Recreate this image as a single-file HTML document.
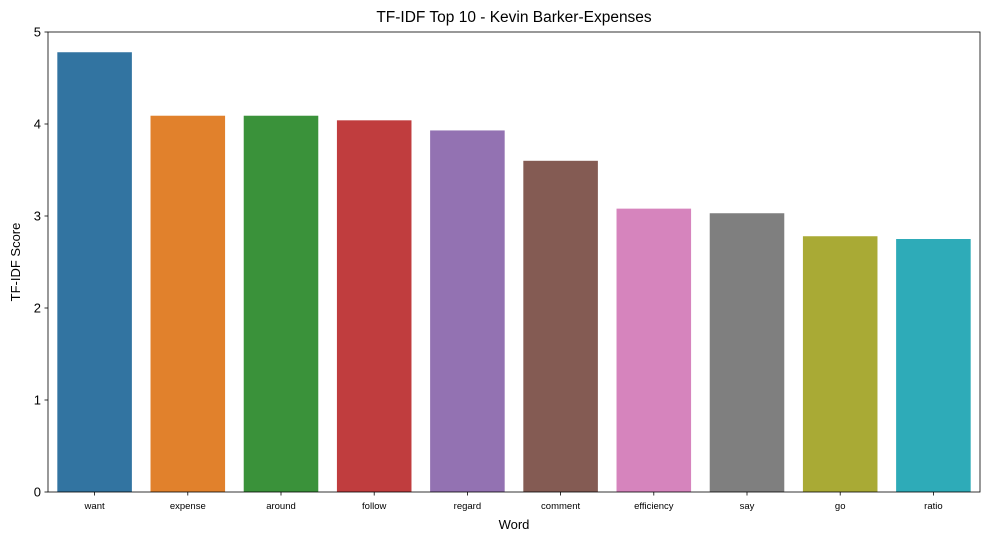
<!DOCTYPE html>
<html><head><meta charset="utf-8"><style>
html,body{margin:0;padding:0;background:#fff;width:991px;height:541px;overflow:hidden}
text{font-family:"Liberation Sans","DejaVu Sans",sans-serif}
</style></head><body>
<svg id="chart" width="991" height="541"></svg>
<script>
const categories=["want","expense","around","follow","regard","comment","efficiency","say","go","ratio"];
const scores=[4.78,4.09,4.09,4.04,3.93,3.60,3.08,3.03,2.78,2.75];
const yTicks=[0,1,2,3,4,5];
const colors=["#3274a1","#e1812c","#3a923a","#c03d3e","#9372b2","#845b53","#d684bd","#7f7f7f","#a9aa35","#2eabb8"];
const L=48,R=980,T=32,B=492,yMax=5;
const svg=document.getElementById('chart');
const NS='http://www.w3.org/2000/svg';
function y(v){return B-(v/yMax)*(B-T);}
const band=(R-L)/categories.length;
function x(i){return L+band*i;}
function mk(tag,attrs,txt){const e=document.createElementNS(NS,tag);for(const k in attrs)e.setAttribute(k,attrs[k]);if(txt!==undefined)e.textContent=txt;svg.appendChild(e);return e;}
categories.forEach((c,i)=>{
  const r=mk('rect',{x:x(i)+band*0.1,y:y(scores[i]),width:band*0.8,height:B-y(scores[i]),fill:colors[i]});
  
  
  const tk=mk('line',{x1:x(i)+band/2,x2:x(i)+band/2,y1:B,y2:B+3.5,stroke:'#000','stroke-width':0.8});
  
  
  const t=mk('text',{x:x(i)+band/2,y:B+17,'text-anchor':'middle','font-size':'9.5px',fill:'#000'},c);
  
  
});
yTicks.forEach(v=>{
  const tk=mk('line',{x1:L-3.5,x2:L,y1:y(v),y2:y(v),stroke:'#000','stroke-width':0.8});
  
  
  const t=mk('text',{x:L-7,y:y(v)+4.5,'text-anchor':'end','font-size':'13px',fill:'#000'},String(v));
  
  
});
const frame=mk('rect',{x:L,y:T,width:R-L,height:B-T,fill:'none',stroke:'#000','stroke-width':0.8});


const title=mk('text',{x:(L+R)/2,y:T-10,'text-anchor':'middle','font-size':'15.5px',fill:'#000'},'TF-IDF Top 10 - Kevin Barker-Expenses');


const xt=mk('text',{x:(L+R)/2,y:529,'text-anchor':'middle','font-size':'13px',fill:'#000'},'Word');


const yt=mk('text',{x:0,y:0,'text-anchor':'middle','font-size':'13px',fill:'#000',transform:'translate(20,'+((T+B)/2)+') rotate(-90)'},'TF-IDF Score');


</script>
</body></html>
